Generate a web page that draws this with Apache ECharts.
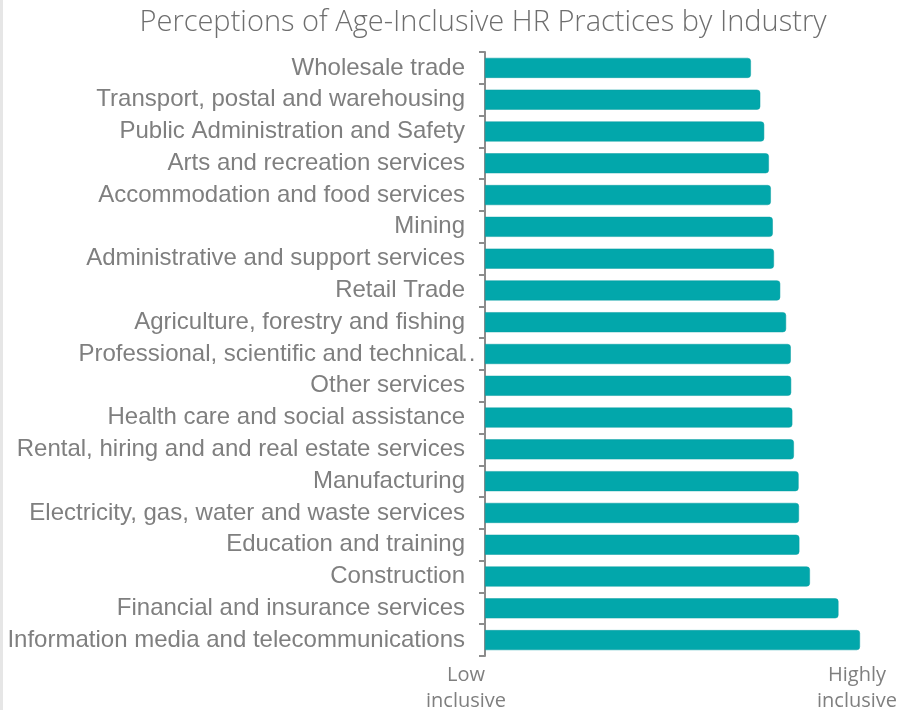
<!DOCTYPE html>
<html>
<head>
<meta charset="utf-8">
<script src="https://cdn.jsdelivr.net/npm/echarts@6/dist/echarts.min.js"></script>
<style>
  html, body { margin: 0; padding: 0; background: #fff; }
  #chart { position: absolute; left: 0; top: 0; width: 912px; height: 710px; }
  #edge { position: absolute; left: 0; top: 0; width: 3px; height: 710px; background: #e6e6e6; z-index: 5; }
</style>
</head>
<body>
<div id="chart"></div>
<div id="edge"></div>
<script>
// Industries, top to bottom
const industries = [
  'Wholesale trade',
  'Transport, postal and warehousing',
  'Public Administration and Safety',
  'Arts and recreation services',
  'Accommodation and food services',
  'Mining',
  'Administrative and support services',
  'Retail Trade',
  'Agriculture, forestry and fishing',
  'Professional, scientific and technical\u2026',
  'Other services',
  'Health care and social assistance',
  'Rental, hiring and and real estate services',
  'Manufacturing',
  'Electricity, gas, water and waste services',
  'Education and training',
  'Construction',
  'Financial and insurance services',
  'Information media and telecommunications'
];

// Perceived inclusiveness score (0 = low, 100 = highly inclusive)
const inclusiveness = [
  68.0, 70.4, 71.4, 72.6, 73.1, 73.6, 73.9, 75.5, 77.0, 78.2,
  78.3, 78.6, 79.0, 80.2, 80.3, 80.4, 83.1, 90.4, 95.9
];

// Scale end labels
const scaleLabels = ['Low\ninclusive', 'Highly\ninclusive'];
const scaleMin = 0;
const scaleMax = 100;

const ELLIPSIS = '\u2026';

const chart = echarts.init(document.getElementById('chart'), null, { renderer: 'canvas' });

chart.setOption({
  animation: false,
  backgroundColor: '#ffffff',
  title: {
    text: 'Perceptions of Age-Inclusive HR Practices by Industry',
    left: 478,
    textAlign: 'center',
    top: 3,
    textStyle: {
      fontFamily: 'Open Sans',
      fontWeight: 300,
      fontSize: 29,
      color: '#6e6e6e'
    }
  },
  grid: {
    left: 485, top: 52, width: 391, height: 604,
    containLabel: false,
    outerBoundsMode: 'none'
  },
  xAxis: {
    type: 'value',
    min: scaleMin,
    max: scaleMax,
    interval: scaleMax - scaleMin,
    axisLine: { show: false },
    axisTick: { show: false },
    splitLine: { show: false },
    axisLabel: {
      show: true,
      showMinLabel: true,
      showMaxLabel: true,
      hideOverlap: false,
      margin: 6,
      padding: [0, 38, 0, 0],
      fontFamily: 'Open Sans',
      fontSize: 20,
      lineHeight: 26,
      color: '#7f7f7f',
      formatter: function (v) {
        return v === scaleMin ? scaleLabels[0] : scaleLabels[1];
      }
    }
  },
  yAxis: {
    type: 'category',
    inverse: true,
    data: industries,
    axisLine: { show: true, lineStyle: { color: '#8c8c8c', width: 2 } },
    axisTick: { show: true, length: 6, lineStyle: { color: '#8c8c8c', width: 2 } },
    axisLabel: {
      margin: 20,
      fontFamily: 'Liberation Sans',
      fontSize: 24,
      color: '#7f7f7f',
      // a clipped name lets its ellipsis run on past the label edge
      formatter: function (name) {
        if (name.endsWith(ELLIPSIS)) {
          return '{t|' + name.slice(0, -1) + '}{e|' + ELLIPSIS + '}';
        }
        return name;
      },
      rich: {
        t: { fontFamily: 'Liberation Sans', fontSize: 24, color: '#7f7f7f' },
        e: { fontFamily: 'Liberation Sans', fontSize: 24, color: '#7f7f7f', width: 1, align: 'left' }
      }
    }
  },
  series: [{
    type: 'bar',
    data: inclusiveness,
    barWidth: 20,
    itemStyle: {
      color: '#02a7ab',
      borderRadius: [0, 3, 3, 0],
      borderColor: '#0a9ea3',
      borderWidth: 0.5
    }
  }]
});
</script>
</body>
</html>
